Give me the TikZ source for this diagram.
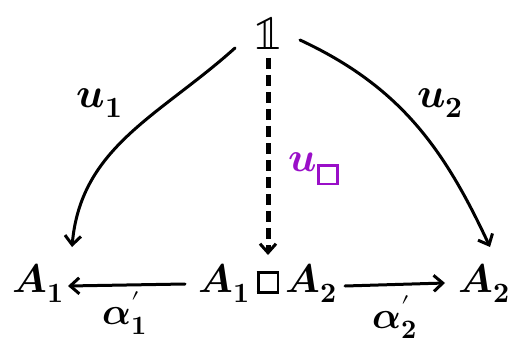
\documentclass[tikz,border=0pt]{standalone}
\usepackage{unicode-math}
\usetikzlibrary{arrows.meta}
\definecolor{lbl}{HTML}{9A0FC8}
\newcommand{\bxsq}[1]{\mathord{\vcenter{\hbox{\fboxrule=2.8pt\fboxsep=0pt\fbox{\rule{0pt}{#1}\rule{#1}{0pt}}}}}}
\newcommand{\bA}{\symbfit{A}}
\newcommand{\bu}{\symbfit{u}}
\newcommand{\ba}{\symbfit{\alpha}}
\begin{document}
\begin{tikzpicture}[x=1pt,y=1pt,
  obj/.style={inner sep=0pt,font=\fontsize{40}{42}\selectfont},
  lab/.style={inner sep=0pt,font=\fontsize{42}{44}\selectfont},
  arr/.style={line width=3pt,line cap=round,-{Straight Barb[length=9pt,width=16pt,line width=3pt]}},
  dsh/.style={line width=5pt,dash pattern=on 11pt off 6pt,-{Straight Barb[length=9pt,width=16pt,line width=3pt]}}]
\useasboundingbox (0,0) rectangle (510,343);
\node[obj,font=\fontsize{50}{52}\selectfont] (one) at (268,310) {$\mathbb{1}$};
\node[obj] (A1) at (38,60) {$\bA_{\symbf{1}}$};
\node[obj] (P) at (268,60) {$\bA_{\symbf{1}}\,\bxsq{17pt}\,\bA_{\symbf{2}}$};
\node[obj] (A2) at (484,60) {$\bA_{\symbf{2}}$};
\coordinate (s1) at (235,295);
\coordinate (s2) at (300,303);
\coordinate (s3) at (268,285);
\coordinate (e1) at (72,96);
\coordinate (e2) at (490,96);
\coordinate (e3) at (268,88);
\coordinate (b1) at (68,57);
\coordinate (b2) at (445,60);
\coordinate (p1) at (185,59);
\coordinate (p2) at (345,57);
\draw[arr] (s1) to[out=222,in=85] (e1);
\draw[arr] (s2) to[out=-25,in=115] (e2);
\draw[dsh] (s3) -- (e3);
\draw[arr] (p1) -- (b1);
\draw[arr] (p2) -- (b2);
\node[lab] (u1) at (100,240) {$\bu_{\symbf{1}}$};
\node[lab] (u2) at (440,240) {$\bu_{\symbf{2}}$};
\node[lab,text=lbl] (u3) at (314,174) {$\bu_{\bxsq{16pt}}$};
\node[lab,font=\fontsize{38}{40}\selectfont] (a1) at (125,30) {$\ba_{\symbf{1}}^{\prime}$};
\node[lab,font=\fontsize{38}{40}\selectfont] (a2) at (395,26) {$\ba_{\symbf{2}}^{\prime}$};
\end{tikzpicture}
\end{document}
